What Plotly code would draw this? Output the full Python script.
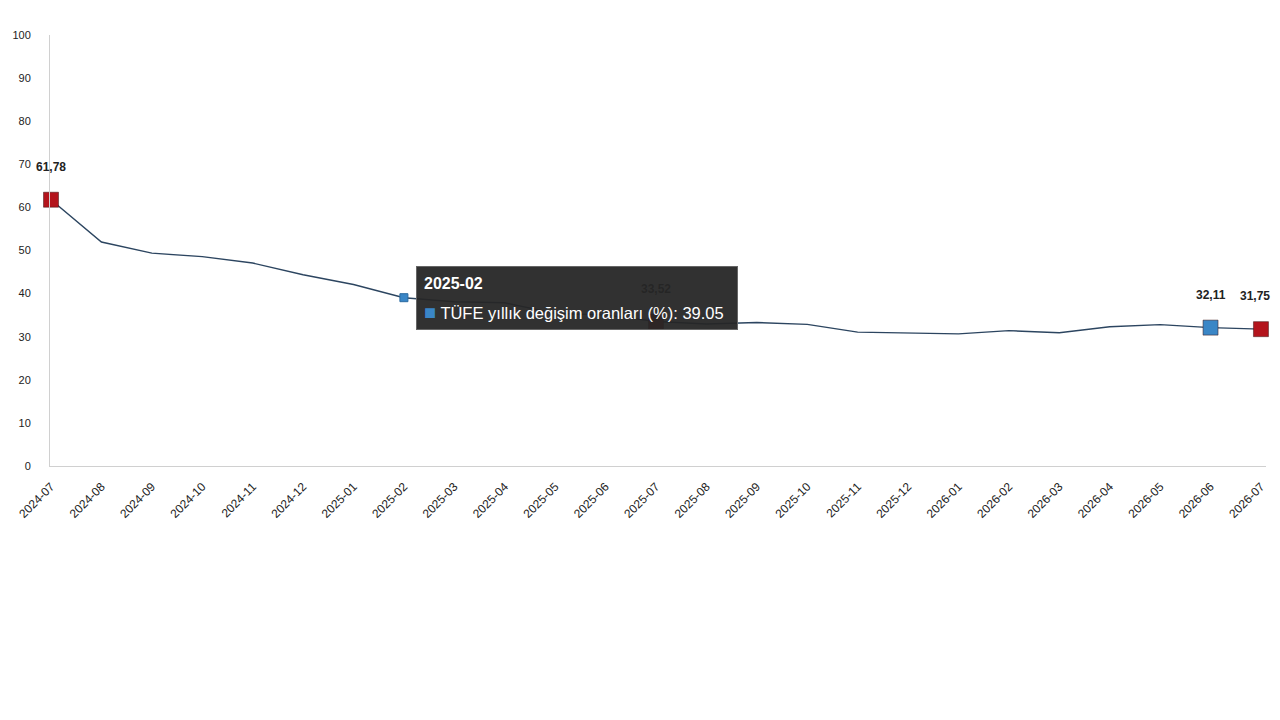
import plotly.graph_objects as go

# TÜFE yıllık değişim oranları (%)
months = ['2024-07', '2024-08', '2024-09', '2024-10', '2024-11', '2024-12',
          '2025-01', '2025-02', '2025-03', '2025-04', '2025-05', '2025-06',
          '2025-07', '2025-08', '2025-09', '2025-10', '2025-11', '2025-12',
          '2026-01', '2026-02', '2026-03', '2026-04', '2026-05', '2026-06',
          '2026-07']
tufe = [61.78, 51.97, 49.38, 48.58, 47.09, 44.38,
        42.12, 39.05, 38.10, 37.86, 35.41, 35.05,
        33.52, 32.95, 33.29, 32.87, 31.07, 30.89,
        30.65, 31.40, 30.90, 32.30, 32.80, 32.11,
        31.75]

# highlighted points with labels
hl_months = ['2024-07', '2025-07', '2026-06', '2026-07']
hl_values = [61.78, 33.52, 32.11, 31.75]
hl_labels = ['61,78', '33,52', '32,11', '31,75']
hl_colors = ['#b3141c', '#b3141c', '#3a86c6', '#b3141c']

# point under the mouse
hover_month = '2025-02'
hover_value = 39.05
series_name = 'TÜFE yıllık değişim oranları (%)'

fig = go.Figure()
fig.add_trace(go.Scatter(
    x=months, y=tufe, mode='lines',
    line=dict(color='#2c4560', width=1.4),
    hoverinfo='skip', showlegend=False))

fig.add_trace(go.Scatter(
    x=hl_months, y=hl_values, mode='markers', cliponaxis=False,
    marker=dict(symbol='square', size=15, color=hl_colors,
                line=dict(color='rgba(60,20,20,0.5)', width=1)),
    hoverinfo='skip', showlegend=False))

fig.add_trace(go.Scatter(
    x=[hover_month], y=[hover_value], mode='markers', cliponaxis=False,
    marker=dict(symbol='square', size=8, color='#3a86c6',
                line=dict(color='#2a6aa0', width=1)),
    hoverinfo='skip', showlegend=False))

for i, (m, v, t) in enumerate(zip(hl_months, hl_values, hl_labels)):
    fig.add_annotation(x=m, y=v, text=t, showarrow=False, yshift=33,
                       xshift=-6 if i == len(hl_months) - 1 else 0,
                       font=dict(family='Liberation Sans', size=12, color='#222',
                                 weight='bold'))

# static tooltip as shown in the screenshot: dark box + two text lines
fig.add_annotation(
    x=hover_month, y=hover_value, xanchor='left', yanchor='middle',
    xshift=12, showarrow=False, text=' ', width=320, height=62, borderpad=0,
    bgcolor='rgba(38,38,38,0.95)', bordercolor='#666', borderwidth=1)
fig.add_annotation(
    x=hover_month, y=hover_value, xanchor='left', yanchor='middle',
    xshift=18, yshift=14, showarrow=False,
    text=f'<b>{hover_month}</b>',
    font=dict(family='Liberation Sans', size=16, color='white'))
fig.add_annotation(
    x=hover_month, y=hover_value, xanchor='left', yanchor='middle',
    xshift=18, yshift=-14, showarrow=False,
    text=f'<span style="color:#3a86c6;font-size:20px">■</span> '
         f'{series_name}: {hover_value:.2f}',
    font=dict(family='Liberation Sans', size=16.5, color='white'))

fig.update_layout(
    width=1264, height=704,
    margin=dict(l=40, r=4, t=27, b=246),
    plot_bgcolor='white', paper_bgcolor='white',
    font=dict(family='Liberation Sans', size=11, color='#333'),
)
fig.update_xaxes(
    type='category', range=[-0.02, 24.1],
    showgrid=False, showline=True, linecolor='#d0d0d0', linewidth=1,
    tickangle=-45, ticks='outside', ticklen=8, tickcolor='rgba(0,0,0,0)',
    tickfont=dict(size=12, color='#222'), zeroline=False)
fig.update_yaxes(
    range=[0, 100], dtick=10,
    showgrid=False, showline=True, linecolor='#d0d0d0', linewidth=1,
    ticks='outside', ticklen=16, tickcolor='rgba(0,0,0,0)',
    tickfont=dict(size=11, color='#222'), zeroline=False)

fig.write_html("out.html")
